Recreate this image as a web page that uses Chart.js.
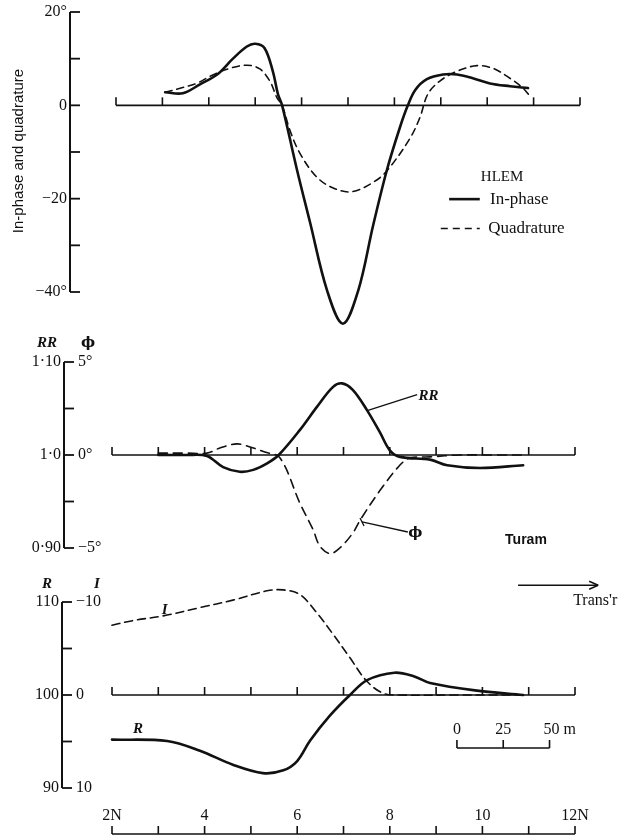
<!DOCTYPE html>
<html>
<head>
  <meta charset="utf-8">
  <title>HLEM and Turam profiles</title>
  <script src="https://cdn.jsdelivr.net/npm/chart.js"></script>
  <style>
    body { margin: 0; background: #fff; }
    #wrap { position: relative; width: 620px; height: 838px; overflow: hidden; background: #fff; }
    canvas { position: absolute; left: 0; }
    #c1 { top: 0; }
    #c2 { top: 318px; }
    #c3 { top: 570px; }
  </style>
</head>
<body>
  <div id="wrap">
    <canvas id="c1" width="620" height="345"></canvas>
    <canvas id="c2" width="620" height="252"></canvas>
    <canvas id="c3" width="620" height="268"></canvas>
  </div>

  <script>
    // ---- data (station numbers along the traverse) ----
    const stations = [2, 3, 4, 5, 6, 7, 8, 9, 10, 11, 12];
    const stationLabelAt = [2, 4, 6, 8, 10, 12];
    const stationLabels = ['2N', '4', '6', '8', '10', '12N'];

    // HLEM (per cent)
    const inPhaseX = [3.06, 3.44, 3.81, 4.18, 4.52, 4.82, 5.0, 5.2, 5.38, 5.49, 5.58, 5.9, 6.18, 6.55, 6.89, 7.22, 7.54, 7.84, 8.12, 8.29, 8.45, 8.7, 9.05, 9.35, 9.69, 10.06, 10.49, 10.88];
    const inPhase  = [2.8, 2.6, 4.5, 6.6, 10.0, 12.6, 13.2, 12.3, 7.3, 2.4, 0, -13.8, -25.0, -39.7, -46.8, -39.7, -25.8, -13.8, -4.7, 0, 3.3, 5.6, 6.6, 6.6, 5.8, 4.7, 4.1, 3.7];
    const quadX    = [3.06, 3.4, 3.76, 4.04, 4.41, 4.82, 5.1, 5.32, 5.47, 5.58, 5.75, 5.97, 6.33, 6.68, 7.09, 7.62, 7.9, 8.34, 8.55, 8.72, 8.98, 9.35, 9.78, 10.13, 10.49, 10.77, 10.92];
    const quadrature = [2.8, 3.7, 4.8, 6.3, 7.8, 8.6, 7.8, 5.1, 1.6, 0, -5.4, -10.4, -15.4, -17.7, -18.5, -16, -13.3, -7, -2.6, 2.4, 5.2, 7.3, 8.5, 7.9, 5.8, 3.7, 2.0];
    const hlemTickValues = [20, 10, 0, -10, -20, -30, -40];
    const hlemTickLabels = ['20°', '', '0', '', '\u221220', '', '\u221240°'];

    // Turam: reduced ratio RR and phase difference phi
    const rrX = [3.0, 3.6, 4.05, 4.4, 4.76, 5.05, 5.35, 5.6, 6.06, 6.43, 6.77, 6.97, 7.2, 7.51, 7.79, 8.0, 8.22, 8.87, 9.24, 9.95, 10.88];
    const rr  = [1.0, 1.0, 0.999, 0.987, 0.982, 0.984, 0.991, 1.0, 1.027, 1.052, 1.073, 1.077, 1.070, 1.048, 1.024, 1.005, 0.998, 0.995, 0.989, 0.986, 0.989];
    const phiX = [3.0, 3.6, 4.05, 4.33, 4.7, 4.98, 5.3, 5.63, 6.06, 6.34, 6.49, 6.71, 6.92, 7.2, 7.36, 7.79, 8.22, 8.44, 8.87, 9.5, 10.2, 10.96];
    const phi  = [0.1, 0.1, 0.1, 0.38, 0.6, 0.43, 0.16, -0.16, -2.6, -4.0, -4.9, -5.3, -5.0, -4.2, -3.5, -1.9, -0.54, -0.16, -0.1, 0, 0, 0];
    const rrTickValues = [1.10, 1.05, 1.0, 0.95, 0.90];
    const rrTickLabels = ['1\u00b710', '', '1\u00b70', '', '0\u00b790'];
    const phiTickLabels = ['5°', '', '0°', '', '\u22125°'];

    // Resistivity-type R and I profile
    const rX = [2.0, 3.19, 3.9, 4.61, 5.26, 5.7, 6.0, 6.28, 6.71, 7.14, 7.51, 8.1, 8.53, 8.87, 9.84, 10.88];
    const rVals = [95.2, 95.05, 94.0, 92.5, 91.6, 91.9, 92.9, 95.1, 97.8, 100, 101.6, 102.4, 102.0, 101.3, 100.5, 100.0];
    const iX = [2.0, 2.45, 3.1, 3.9, 4.61, 5.35, 5.7, 6.06, 6.43, 6.78, 7.14, 7.5, 7.85, 8.2, 9.5, 10.88];
    const iVals = [-7.5, -8.0, -8.5, -9.4, -10.2, -11.2, -11.3, -10.8, -8.8, -6.5, -4.0, -1.5, -0.2, 0, 0, 0];
    const rTickValues = [110, 105, 100, 95, 90];
    const rTickLabels = ['110', '', '100', '', '90'];
    const iTickLabels = ['\u221210', '', '0', '', '10'];

    const SERIF = '"Liberation Serif", "DejaVu Serif", serif';
    const SANS = '"Liberation Sans", Arial, sans-serif';
    const INK = '#111';

    const xy = (xs, ys) => xs.map((x, i) => ({ x: x, y: ys[i] }));

    function text(ctx, str, x, y, font, align, base) {
      ctx.font = font;
      ctx.textAlign = align || 'left';
      ctx.textBaseline = base || 'middle';
      ctx.fillStyle = INK;
      ctx.fillText(str, x, y);
    }

    function line(ctx, x1, y1, x2, y2, w) {
      ctx.lineWidth = w || 1.5;
      ctx.strokeStyle = INK;
      ctx.setLineDash([]);
      ctx.beginPath();
      ctx.moveTo(x1, y1);
      ctx.lineTo(x2, y2);
      ctx.stroke();
    }

    // horizontal traverse line with station ticks pointing up
    function stationAxis(chart, py) {
      const ctx = chart.ctx, xs = chart.scales.x;
      line(ctx, xs.getPixelForValue(2), py, xs.getPixelForValue(12), py, 1.6);
      stations.forEach(s => {
        const px = xs.getPixelForValue(s);
        line(ctx, px, py, px, py - 8, 1.6);
      });
    }

    // vertical axis drawn at pixel ax, ticks to the right
    function valueAxis(chart, scaleId, ax, values, leftLabels, rightLabels, font) {
      const ctx = chart.ctx, ys = chart.scales[scaleId];
      line(ctx, ax, ys.getPixelForValue(values[0]), ax, ys.getPixelForValue(values[values.length - 1]), 2);
      values.forEach((v, i) => {
        const py = ys.getPixelForValue(v);
        line(ctx, ax, py, ax + 10, py, 1.8);
        if (leftLabels[i]) text(ctx, leftLabels[i], ax - 3, py, font, 'right');
        if (rightLabels && rightLabels[i]) text(ctx, rightLabels[i], ax + 14, py, font, 'left');
      });
    }

    function makeChart(id, datasets, yScales, pad, plugin) {
      return new Chart(document.getElementById(id), {
        type: 'line',
        data: { datasets: datasets },
        options: {
          responsive: false,
          animation: false,
          events: [],
          layout: { padding: pad },
          plugins: { legend: { display: false }, tooltip: { enabled: false } },
          scales: Object.assign({ x: { type: 'linear', min: 2, max: 12, display: false } }, yScales),
          elements: {
            point: { radius: 0 },
            line: { tension: 0.35, borderColor: INK, fill: false, borderCapStyle: 'round', borderJoinStyle: 'round' }
          }
        },
        plugins: [plugin]
      });
    }

    // ---------------- panel 1: HLEM ----------------
    makeChart('c1', [
      { data: xy(inPhaseX, inPhase), borderWidth: 2.6, borderColor: INK, clip: false },
      { data: xy(quadX, quadrature), borderWidth: 1.6, borderColor: INK, borderDash: [7, 5], clip: false }
    ], {
      y: { min: -40, max: 20, display: false }
    }, { left: 116, right: 40, top: 12, bottom: 53 }, {
      id: 'hlemFrame',
      beforeDatasetsDraw(chart) {
        const ys = chart.scales.y;
        valueAxis(chart, 'y', 70, hlemTickValues, hlemTickLabels, null, '16px ' + SERIF);
        stationAxis(chart, ys.getPixelForValue(0));
      },
      afterDraw(chart) {
        const ctx = chart.ctx, xs = chart.scales.x, ys = chart.scales.y;
        ctx.save();
        ctx.translate(19, 151);
        ctx.rotate(-Math.PI / 2);
        text(ctx, 'In-phase and quadrature', 0, 0, '15px ' + SANS, 'center');
        ctx.restore();
        // legend
        text(ctx, 'HLEM', xs.getPixelForValue(10.32), ys.getPixelForValue(-15.3), '15px ' + SERIF, 'center');
        const y1 = ys.getPixelForValue(-20.1), y2 = ys.getPixelForValue(-26.4);
        line(ctx, xs.getPixelForValue(9.18), y1, xs.getPixelForValue(9.84), y1, 2.6);
        text(ctx, 'In-phase', xs.getPixelForValue(10.06), y1, '17px ' + SERIF);
        ctx.setLineDash([7, 5]);
        ctx.lineWidth = 1.6;
        ctx.beginPath();
        ctx.moveTo(xs.getPixelForValue(9.0), y2);
        ctx.lineTo(xs.getPixelForValue(9.84), y2);
        ctx.stroke();
        ctx.setLineDash([]);
        text(ctx, 'Quadrature', xs.getPixelForValue(10.02), y2, '17px ' + SERIF);
      }
    });

    // ---------------- panel 2: Turam ----------------
    makeChart('c2', [
      { data: xy(rrX, rr), yAxisID: 'y', borderWidth: 2.6, borderColor: INK, clip: false },
      { data: xy(phiX, phi), yAxisID: 'phi', borderWidth: 1.6, borderColor: INK, borderDash: [9, 6], clip: false }
    ], {
      y: { min: 0.9, max: 1.1, display: false },
      phi: { min: -5, max: 5, display: false, position: 'right' }
    }, { left: 112, right: 45, top: 44, bottom: 22 }, {
      id: 'turamFrame',
      beforeDatasetsDraw(chart) {
        const ys = chart.scales.y, top = chart.chartArea.top;
        valueAxis(chart, 'y', 64, rrTickValues, rrTickLabels, phiTickLabels, '16px ' + SERIF);
        text(chart.ctx, 'RR', 47, top - 19, 'italic bold 15px ' + SERIF, 'center');
        text(chart.ctx, '\u03d5', 88, top - 19, 'bold 15px "DejaVu Serif", serif', 'center');
        stationAxis(chart, ys.getPixelForValue(1.0));
      },
      afterDraw(chart) {
        const ctx = chart.ctx, xs = chart.scales.x, ys = chart.scales.y, ps = chart.scales.phi;
        line(ctx, xs.getPixelForValue(7.53), ys.getPixelForValue(1.048), xs.getPixelForValue(8.59), ys.getPixelForValue(1.065), 1.3);
        text(ctx, 'RR', xs.getPixelForValue(8.62), ys.getPixelForValue(1.063), 'italic bold 15px ' + SERIF, 'left');
        const ax = xs.getPixelForValue(7.4), ay = ps.getPixelForValue(-3.6);
        line(ctx, ax, ay, xs.getPixelForValue(8.39), ps.getPixelForValue(-4.14), 1.3);
        line(ctx, ax - 2, ay - 4, ax + 2, ay + 4, 1.3);
        text(ctx, '\u03d5', xs.getPixelForValue(8.55), ps.getPixelForValue(-4.2), 'bold 15px "DejaVu Serif", serif', 'center');
        text(ctx, 'Turam', xs.getPixelForValue(10.49), ps.getPixelForValue(-4.6), 'bold 14px ' + SANS, 'left');
      }
    });

    // ---------------- panel 3: R and I ----------------
    makeChart('c3', [
      { data: xy(rX, rVals), yAxisID: 'y', borderWidth: 2.6, borderColor: INK, clip: false },
      { data: xy(iX, iVals), yAxisID: 'im', borderWidth: 1.6, borderColor: INK, borderDash: [8, 5], clip: false }
    ], {
      y: { min: 90, max: 110, display: false },
      im: { min: -10, max: 10, reverse: true, display: false, position: 'right' }
    }, { left: 112, right: 45, top: 32, bottom: 50 }, {
      id: 'riFrame',
      beforeDatasetsDraw(chart) {
        const ctx = chart.ctx, xs = chart.scales.x, ys = chart.scales.y, area = chart.chartArea;
        valueAxis(chart, 'y', 62, rTickValues, rTickLabels, iTickLabels, '16px ' + SERIF);
        text(ctx, 'R', 47, area.top - 18, 'italic bold 15px ' + SERIF, 'center');
        text(ctx, 'I', 97, area.top - 18, 'italic bold 15px ' + SERIF, 'center');
        stationAxis(chart, ys.getPixelForValue(100));
        // station axis along the bottom
        const by = area.bottom + 46;
        stationAxis(chart, by);
        stationLabelAt.forEach((s, i) => {
          text(ctx, stationLabels[i], xs.getPixelForValue(s), by - 18, '16px ' + SERIF, 'center');
        });
      },
      afterDraw(chart) {
        const ctx = chart.ctx, xs = chart.scales.x, ys = chart.scales.y, is = chart.scales.im;
        text(ctx, 'R', xs.getPixelForValue(2.56), ys.getPixelForValue(96.3), 'italic bold 15px ' + SERIF, 'center');
        text(ctx, 'I', xs.getPixelForValue(3.14), is.getPixelForValue(-9.1), 'italic bold 15px ' + SERIF, 'center');
        // direction to transmitter
        const ay = ys.getPixelForValue(111.8);
        const a0 = xs.getPixelForValue(10.77), a1 = xs.getPixelForValue(12.5);
        line(ctx, a0, ay, a1, ay, 1.4);
        line(ctx, a1 - 9, ay - 4, a1, ay, 1.4);
        line(ctx, a1 - 9, ay + 4, a1, ay, 1.4);
        text(ctx, "Trans'r", xs.getPixelForValue(11.96), ys.getPixelForValue(110.1), '16px ' + SERIF, 'left');
        // 50 m scale bar = two station intervals
        const b0 = xs.getPixelForValue(9.45), b1 = xs.getPixelForValue(11.45), bm = (b0 + b1) / 2;
        const by = ys.getPixelForValue(94.3), ty = ys.getPixelForValue(96.3);
        line(ctx, b0, by, b1, by, 1.6);
        [b0, bm, b1].forEach(px => line(ctx, px, by, px, by - 8, 1.6));
        text(ctx, '0', b0, ty, '16px ' + SERIF, 'center');
        text(ctx, '25', bm, ty, '16px ' + SERIF, 'center');
        text(ctx, '50 m', b1 - 6, ty, '16px ' + SERIF, 'left');
      }
    });
  </script>
</body>
</html>
